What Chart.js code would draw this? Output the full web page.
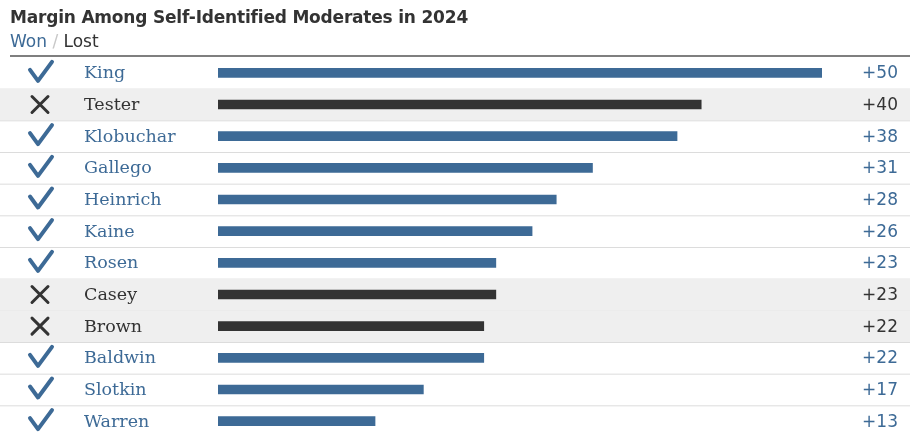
<!DOCTYPE html>
<html>
<head>
<meta charset="utf-8">
<script src="https://cdn.jsdelivr.net/npm/chart.js@4"></script>
<style>
  html, body { margin: 0; padding: 0; width: 910px; height: 432px; overflow: hidden; background: #fff; }
  #wrap { position: relative; width: 910px; height: 437px; }
  #title { position: absolute; left: 10px; top: 7px; font: bold 17px "DejaVu Sans", sans-serif; color: #333; letter-spacing: -0.2px; }
  #sub { position: absolute; left: 10px; top: 31px; font: 17px "DejaVu Sans", sans-serif; color: #333; }
  #sub .won { color: #3d6a96; }
  #sub .sep { color: #c8c8c8; }
</style>
</head>
<body>
<div id="wrap">
  <canvas id="chart" width="910" height="437"></canvas>
  <div id="title">Margin Among Self-Identified Moderates in 2024</div>
  <div id="sub"><span class="won">Won</span> <span class="sep">/</span> Lost</div>
</div>
<script>
const senators = ['King', 'Tester', 'Klobuchar', 'Gallego', 'Heinrich', 'Kaine', 'Rosen', 'Casey', 'Brown', 'Baldwin', 'Slotkin', 'Warren'];
const margins = [50, 40, 38, 31, 28, 26, 23, 23, 22, 22, 17, 13];
const won = [true, false, true, true, true, true, true, false, false, true, true, true];

const BLUE = '#3d6a96';
const DARK = '#333333';

// rows, icons, names and values drawn around the bars
const rowsPlugin = {
  id: 'rows',
  beforeDatasetsDraw(chart) {
    const ctx = chart.ctx;
    const y = chart.scales.y;
    const step = y.getPixelForValue(1) - y.getPixelForValue(0);
    ctx.save();
    senators.forEach((name, i) => {
      const cy = y.getPixelForValue(i);
      const top = cy - step / 2;
      if (!won[i]) {
        ctx.fillStyle = '#efefef';
        ctx.fillRect(0, top, 910, step);
      }
      ctx.strokeStyle = '#dcdcdc';
      ctx.lineWidth = 1;
      ctx.beginPath();
      ctx.moveTo(0, top + step + 0.5);
      ctx.lineTo(910, top + step + 0.5);
      ctx.stroke();
    });
    // header rule
    const firstTop = y.getPixelForValue(0) - step / 2;
    ctx.strokeStyle = '#555';
    ctx.lineWidth = 1.5;
    ctx.beginPath();
    ctx.moveTo(10, firstTop - 1);
    ctx.lineTo(910, firstTop - 1);
    ctx.stroke();
    ctx.restore();
  },
  afterDatasetsDraw(chart) {
    const ctx = chart.ctx;
    const y = chart.scales.y;
    ctx.save();
    senators.forEach((name, i) => {
      const cy = y.getPixelForValue(i);
      const color = won[i] ? BLUE : DARK;
      ctx.lineCap = 'round';
      ctx.lineJoin = 'round';
      ctx.strokeStyle = color;
      if (won[i]) {
        ctx.lineWidth = 4;
        ctx.beginPath();
        ctx.moveTo(30, cy - 3);
        ctx.lineTo(38, cy + 8);
        ctx.lineTo(52, cy - 11);
        ctx.stroke();
      } else {
        ctx.lineWidth = 3;
        ctx.beginPath();
        ctx.moveTo(32, cy - 8);
        ctx.lineTo(48, cy + 8);
        ctx.moveTo(48, cy - 8);
        ctx.lineTo(32, cy + 8);
        ctx.stroke();
      }
      ctx.fillStyle = color;
      ctx.textBaseline = 'middle';
      ctx.textAlign = 'left';
      ctx.font = '17.5px "DejaVu Serif", Georgia, serif';
      ctx.fillText(name, 84, cy + 1);
      ctx.textAlign = 'right';
      ctx.font = '17px "DejaVu Sans", sans-serif';
      ctx.fillText('+' + margins[i], 898, cy + 1);
    });
    ctx.restore();
  }
};

new Chart(document.getElementById('chart'), {
  type: 'bar',
  data: {
    labels: senators,
    datasets: [{
      data: margins,
      backgroundColor: won.map(w => w ? BLUE : DARK),
      barThickness: 9,
      borderWidth: 0
    }]
  },
  options: {
    indexAxis: 'y',
    responsive: false,
    animation: false,
    layout: { padding: { top: 57, left: 218, right: 88, bottom: 0 } },
    scales: {
      x: { display: false, min: 0, max: 50 },
      y: { display: false }
    },
    plugins: {
      legend: { display: false },
      tooltip: { enabled: false }
    }
  },
  plugins: [rowsPlugin]
});
</script>
</body>
</html>
